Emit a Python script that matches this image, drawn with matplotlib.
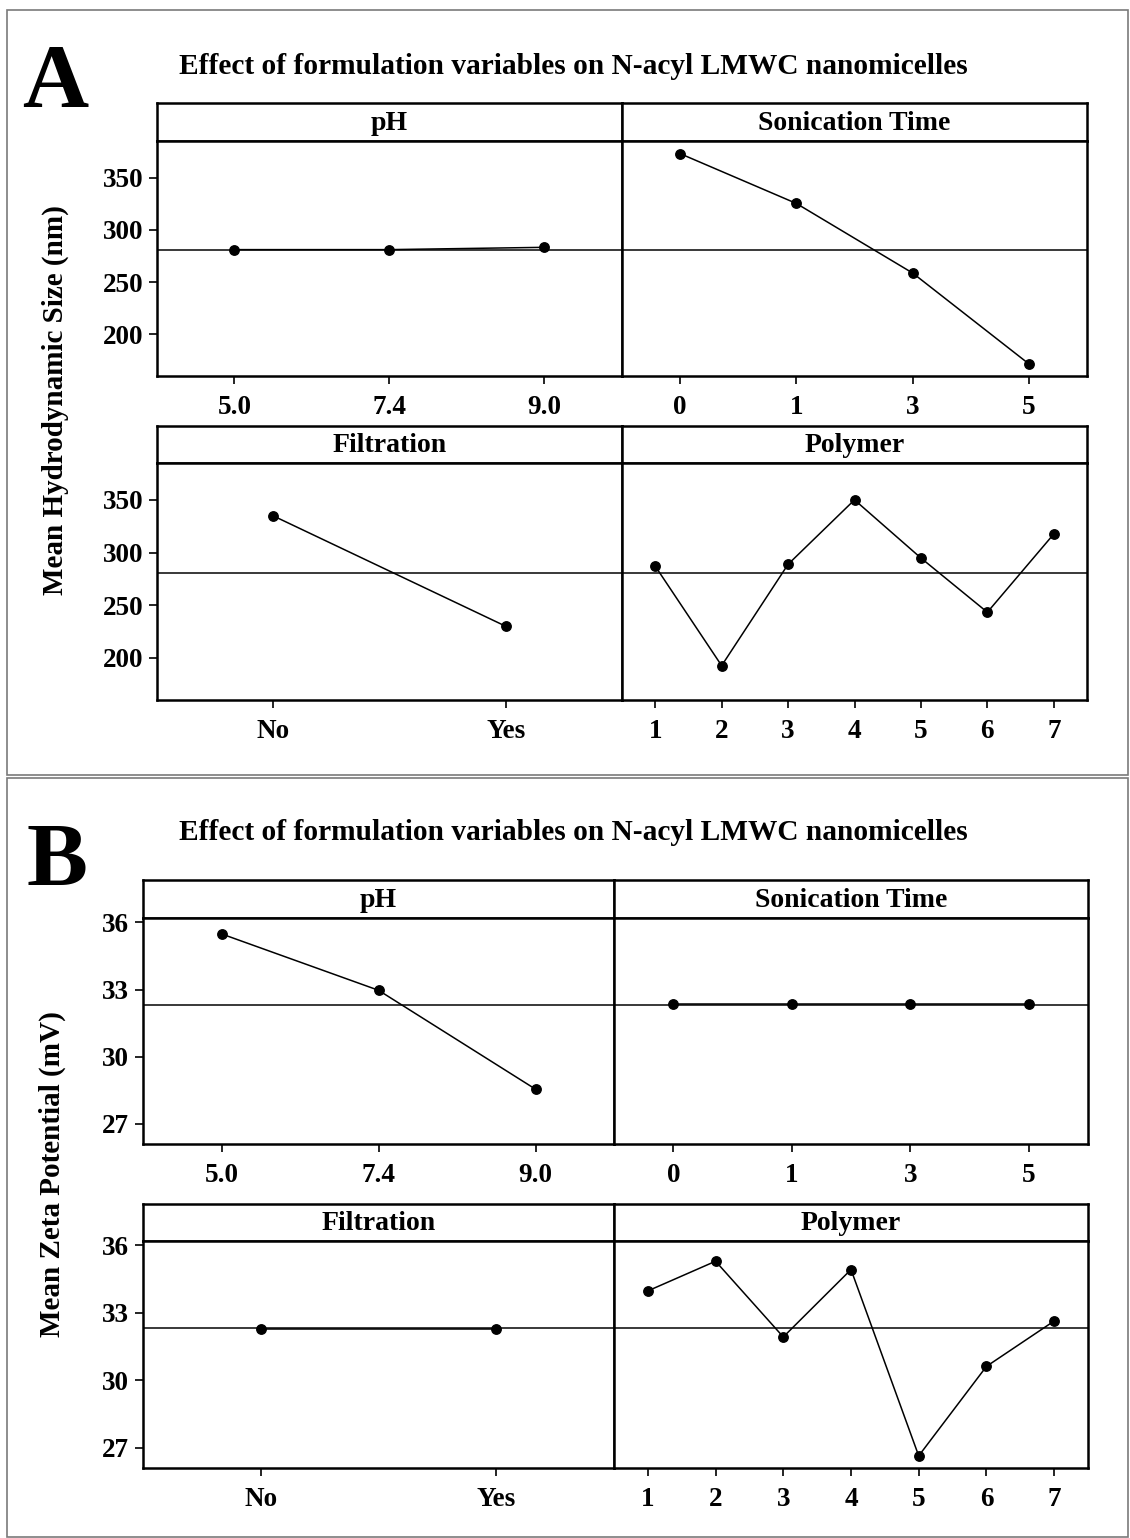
import matplotlib
matplotlib.use("Agg")
import matplotlib.pyplot as plt
from matplotlib.patches import Rectangle

W, H = 1130, 1538
DPI = 100

plt.rcParams["font.family"] = ["Liberation Serif", "DejaVu Serif"]
plt.rcParams["font.weight"] = "bold"

# Factor levels
ph_levels = ["5.0", "7.4", "9.0"]
son_levels = ["0", "1", "3", "5"]
filt_levels = ["No", "Yes"]
poly_levels = ["1", "2", "3", "4", "5", "6", "7"]

# Mean hydrodynamic size (nm) at each level
size_ph = [281.0, 281.0, 283.2]
size_son = [372.9, 325.2, 258.6, 171.6]
size_filt = [334.8, 230.0]
size_poly = [287.1, 192.6, 288.8, 350.0, 294.8, 243.3, 317.6]
size_mean = 281.0
size_ticks = [200, 250, 300, 350]

# Mean zeta potential (mV) at each level
zeta_ph = [35.49, 32.97, 28.55]
zeta_son = [32.35, 32.35, 32.35, 32.35]
zeta_filt = [32.3, 32.3]
zeta_poly = [33.98, 35.30, 31.93, 34.93, 26.64, 30.62, 32.64]
zeta_mean = 32.33
zeta_ticks = [27, 30, 33, 36]

fig = plt.figure(figsize=(W / DPI, H / DPI), dpi=DPI)


def box(x0, y0, x1, y1):
    """Pixel box (top-left origin) -> figure fraction rect."""
    return [x0 / W, 1 - y1 / H, (x1 - x0) / W, (y1 - y0) / H]


FRAME_LW = 1.8
TICK_FS = 19.5
STRIP_FS = 20


def panel(x0, x1, ys0, ys1, yd1, name, levels, values, mean, ylim, yticks, show_y):
    # header strip
    sax = fig.add_axes(box(x0, ys0, x1, ys1))
    sax.set_xticks([])
    sax.set_yticks([])
    for s in sax.spines.values():
        s.set_linewidth(FRAME_LW)
    sax.text(0.5, 0.47, name, ha="center", va="center", fontsize=STRIP_FS,
             fontweight="bold", transform=sax.transAxes)
    # data area
    ax = fig.add_axes(box(x0, ys1, x1, yd1))
    pos = list(range(1, len(levels) + 1))
    ax.axhline(mean, color="#2a2a2a", lw=1.3, zorder=1)
    ax.plot(pos, values, color="black", lw=1.1, marker="o", ms=6.8,
            mfc="black", mec="black", zorder=3)
    ax.set_xlim(0.5, len(levels) + 0.5)
    ax.set_ylim(*ylim)
    ax.set_xticks(pos)
    ax.set_xticklabels(levels)
    ax.set_yticks(yticks)
    if not show_y:
        ax.tick_params(axis="y", left=False, labelleft=False)
    ax.tick_params(axis="x", length=6, width=1.2, pad=8, labelsize=TICK_FS)
    ax.tick_params(axis="y", length=6, width=1.2, pad=4, labelsize=TICK_FS)
    for s in ax.spines.values():
        s.set_linewidth(FRAME_LW)
    return ax


title = "Effect of formulation variables on N-acyl LMWC nanomicelles"

# ---------------- Panel A: hydrodynamic size ----------------
ylim_a = (160, 385)
panel(157, 622, 103, 141, 376, "pH", ph_levels, size_ph, size_mean, ylim_a, size_ticks, True)
panel(622, 1087, 103, 141, 376, "Sonication Time", son_levels, size_son, size_mean, ylim_a, size_ticks, False)
panel(157, 622, 426, 463, 700, "Filtration", filt_levels, size_filt, size_mean, ylim_a, size_ticks, True)
panel(622, 1087, 426, 463, 700, "Polymer", poly_levels, size_poly, size_mean, ylim_a, size_ticks, False)

fig.text(573 / W, 1 - 66 / H, title, ha="center", va="center", fontsize=21.2, fontweight="bold")
fig.text(22 / W, 1 - 107 / H, "A", ha="left", va="baseline", fontsize=66, fontweight="bold")
fig.text(55 / W, 1 - 400 / H, "Mean Hydrodynamic Size (nm)", rotation=90,
         ha="center", va="center", fontsize=21, fontweight="bold")

# ---------------- Panel B: zeta potential ----------------
ylim_b = (26.1, 36.2)
panel(143, 614, 880, 918, 1144, "pH", ph_levels, zeta_ph, zeta_mean, ylim_b, zeta_ticks, True)
panel(614, 1088, 880, 918, 1144, "Sonication Time", son_levels, zeta_son, zeta_mean, ylim_b, zeta_ticks, False)
panel(143, 614, 1204, 1241, 1468, "Filtration", filt_levels, zeta_filt, zeta_mean, ylim_b, zeta_ticks, True)
panel(614, 1088, 1204, 1241, 1468, "Polymer", poly_levels, zeta_poly, zeta_mean, ylim_b, zeta_ticks, False)

fig.text(573 / W, 1 - 833 / H, title, ha="center", va="center", fontsize=21.2, fontweight="bold")
fig.text(26 / W, 1 - 886 / H, "B", ha="left", va="baseline", fontsize=66, fontweight="bold")
fig.text(52 / W, 1 - 1174 / H, "Mean Zeta Potential (mV)", rotation=90,
         ha="center", va="center", fontsize=21, fontweight="bold")

# outer frames around each panel
for (fx0, fy0, fx1, fy1) in [(7, 10, 1128, 775), (7, 778, 1128, 1537)]:
    fig.add_artist(Rectangle((fx0 / W, 1 - fy1 / H), (fx1 - fx0) / W, (fy1 - fy0) / H,
                             transform=fig.transFigure, fill=False,
                             edgecolor="#7a7a7a", linewidth=1.2))

fig.savefig("out.png", dpi=DPI)
